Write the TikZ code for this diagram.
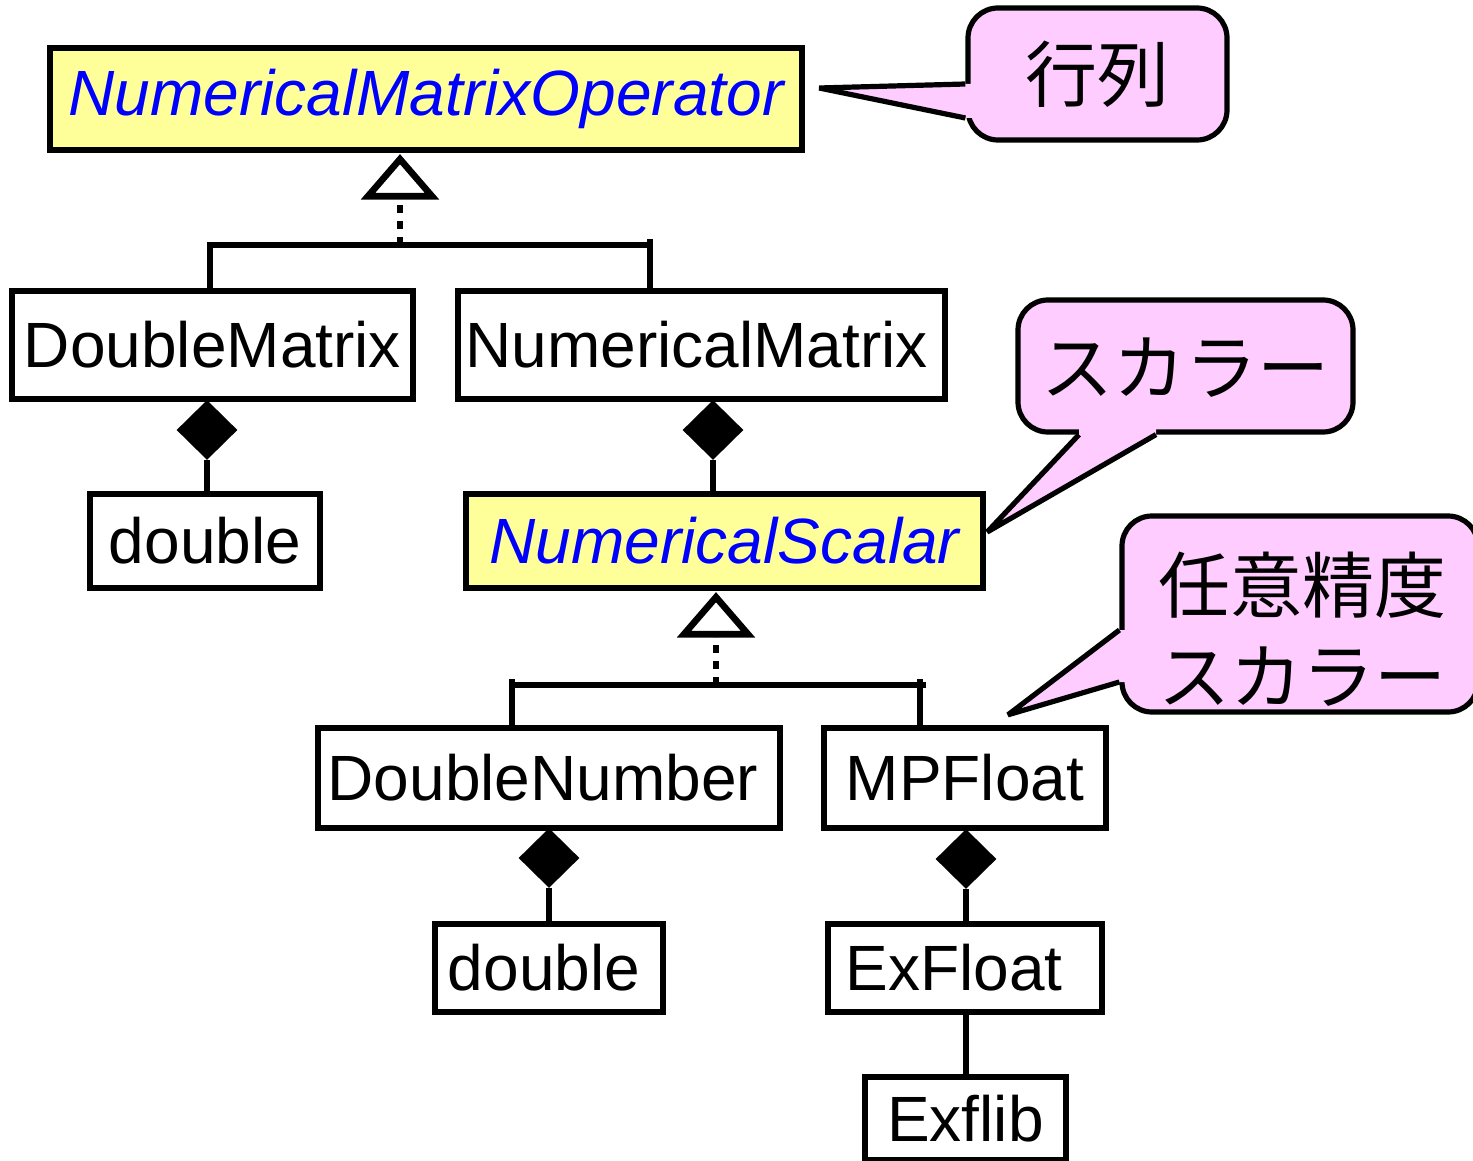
\documentclass[tikz,border=0pt]{standalone}
\usepackage{fontspec}
\setmainfont{Liberation Sans}
\newfontfamily\jpfont{Noto Sans CJK JP}
\usetikzlibrary{shapes.geometric,fit}
\definecolor{notefill}{HTML}{FFCCFF}
\definecolor{ifacefill}{HTML}{FFFF99}
\definecolor{ifacetext}{HTML}{0000FF}

\begin{document}
\begin{tikzpicture}[x={(0.5pt,0)},y={(0,-0.5pt)},
  classbox/.style={draw=black, line width=3.2pt, fill=white, inner sep=0pt,
    font=\fontsize{32}{38}\selectfont},
  iface/.style={classbox, fill=ifacefill, text=ifacetext,
    font=\fontsize{32}{38}\selectfont\itshape},
  link/.style={line width=2.7pt},
  realize/.style={line width=2.8pt, dash pattern=on 4pt off 4pt},
  hollowtri/.style={draw=black, fill=white, line width=3.3pt, line join=miter},
  comp/.style={diamond, fill=black, inner sep=0pt,
    minimum width=30.5pt, minimum height=30pt},
  note/.style={draw=black, fill=notefill, line width=2.6pt,
    rounded corners=15pt, inner sep=0pt},
  noteedge/.style={draw=black, line width=2.6pt, line join=bevel},
  notetext/.style={font=\jpfont\fontsize{36}{45.5}\selectfont, align=center}
]
\useasboundingbox (0,0) rectangle (1473,1161);
\fill[white] (0,0) rectangle (1473,1161);

% class boxes
\node[iface, minimum width=376pt, minimum height=51pt] (nmo) at (426,99) {NumericalMatrixOperator};
\node[classbox, minimum width=200.5pt, minimum height=54pt] (dm) at (212.5,345) {DoubleMatrix};
\node[classbox, minimum width=243.5pt, minimum height=54pt] (nm) at (701.5,345) {NumericalMatrix\kern5pt};
\node[classbox, minimum width=115pt, minimum height=47pt] (dbl1) at (205,541) {double};
\node[iface, minimum width=258.5pt, minimum height=47pt] (ns) at (724.5,541) {NumericalScalar};
\node[classbox, minimum width=231pt, minimum height=50pt] (dn) at (549,778) {DoubleNumber\kern6pt};
\node[classbox, minimum width=141pt, minimum height=50pt] (mp) at (965,778) {MPFloat};
\node[classbox, minimum width=114pt, minimum height=44pt] (dbl2) at (549,968) {double\kern5pt};
\node[classbox, minimum width=137pt, minimum height=44pt] (exf) at (965,968) {ExFloat\kern11pt};
\node[classbox, minimum width=100.5pt, minimum height=41.5pt] (exl) at (965.5,1118.5) {Exflib};

% realization of NumericalMatrixOperator
\coordinate (g1) at (400,245);
\coordinate (g1l) at (210,245);
\coordinate (g1r) at (650,245);
\draw[link] (g1l |- dm.north) -- (g1l) -- (g1r);
\draw[link] ([yshift=3pt]g1r) -- (g1r |- nm.north);
\draw[realize] (g1) -- ++(0,-48);
\coordinate (t1) at (nmo.south -| g1);
\draw[hollowtri] (t1) ++(0,6) -- ++(-32,37) -- ++(64,0) -- cycle;

% realization of NumericalScalar
\coordinate (g2) at (716,685);
\coordinate (g2l) at (512,685);
\coordinate (g2r) at (920,685);
\draw[link] (g2l) -- ([xshift=3pt]g2r);
\draw[link] ([yshift=3pt]g2l) -- (g2l |- dn.north);
\draw[link] ([yshift=3pt]g2r) -- (g2r |- mp.north);
\draw[realize] (g2) -- ++(0,-48);
\coordinate (t2) at (ns.south -| g2);
\draw[hollowtri] (t2) ++(0,6) -- ++(-32,37) -- ++(64,0) -- cycle;

% compositions
\node[comp] (c1) at (207,430) {};
\draw[link] (c1.south) -- (c1.south |- dbl1.north);
\node[comp] (c2) at (713,430) {};
\draw[link] (c2.south) -- (c2.south |- ns.north);
\node[comp] (c3) at (549,858) {};
\draw[link] (c3.south) -- (c3.south |- dbl2.north);
\node[comp] (c4) at (966,859) {};
\draw[link] (c4.south) -- (c4.south |- exf.north);
\draw[link] (c4 |- exf.south) -- (c4 |- exl.north);

% callout: matrix
\node[note, fit={(968,8) (1227,140)}] (n1) {};
\coordinate (p1) at ([xshift=7pt,yshift=5.5pt]nmo.east);
\fill[notefill] ([yshift=-5pt]n1.west) -- (p1) -- ([yshift=-22pt]n1.west)
  -- ([xshift=4pt,yshift=-22pt]n1.west) -- ([xshift=4pt,yshift=-5pt]n1.west) -- cycle;
\draw[noteedge] ([yshift=-5pt]n1.west) -- (p1) -- ([yshift=-22pt]n1.west);
\node[notetext] (n1t) at (n1.center) {行列};

% callout: scalar
\node[note, fit={(1018,300) (1353,432)}] (n2) {};
\coordinate (p2) at ([xshift=0.5pt,yshift=4.5pt]ns.east);
\fill[notefill] ([xshift=-14.75pt]n2.south) -- (p2) -- ([xshift=-53.25pt]n2.south)
  -- ([xshift=-53.25pt,yshift=4pt]n2.south) -- ([xshift=-14.75pt,yshift=4pt]n2.south) -- cycle;
\draw[noteedge] ([xshift=-14.75pt]n2.south) -- (p2) -- ([xshift=-53.25pt]n2.south);
\node[notetext] (n2t) at ([yshift=-1pt]n2.center) {スカラー};

% callout: arbitrary precision scalar
\node[note, fit={(1122,516) (1478,712)}] (n3) {};
\coordinate (p3) at ([xshift=21.5pt,yshift=5pt]mp.north);
\fill[notefill] ([yshift=-8pt]n3.west) -- (p3) -- ([yshift=-34pt]n3.west)
  -- ([xshift=4pt,yshift=-34pt]n3.west) -- ([xshift=4pt,yshift=-8pt]n3.west) -- cycle;
\draw[noteedge] ([yshift=-8pt]n3.west) -- (p3) -- ([yshift=-34pt]n3.west);
\node[notetext] (n3t) at ([xshift=1pt,yshift=-7.5pt]n3.center) {任意精度\\スカラー};
\end{tikzpicture}
\end{document}
